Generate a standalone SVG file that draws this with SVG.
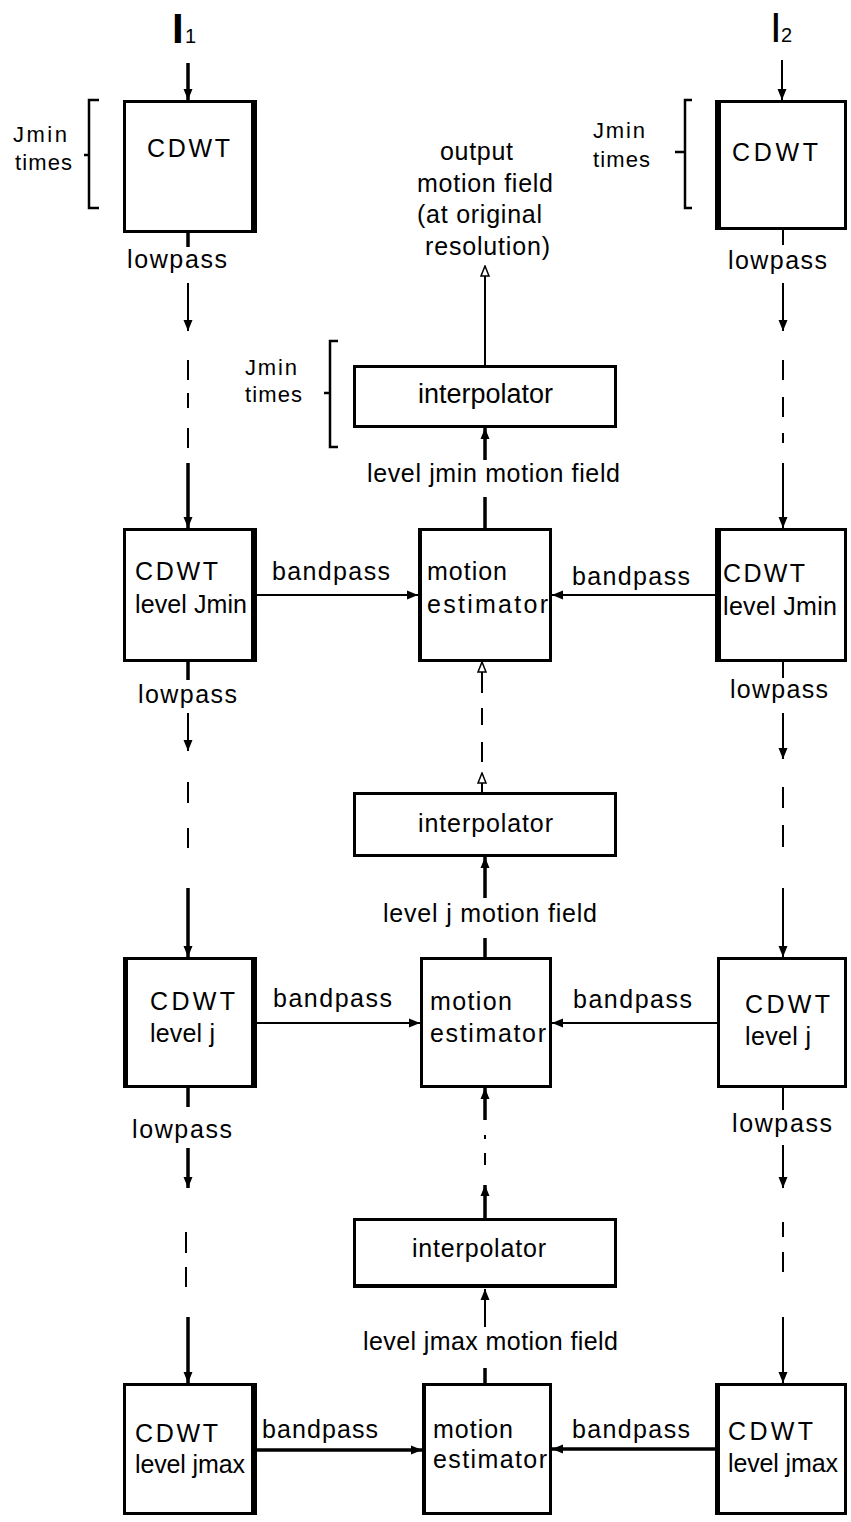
<svg xmlns="http://www.w3.org/2000/svg" width="851" height="1522" viewBox="0 0 851 1522">
  <style>
    .t { font-family: "Liberation Sans", Arial, sans-serif; font-size: 25px; fill: #000; }
    .big { font-size: 27px; }
    .box { fill: #fff; stroke: #000; stroke-width: 3; }
    .edge { stroke: #000; stroke-width: 6; }
    .ln { stroke: #000; stroke-width: 2; fill: none; }
    .lnb { stroke: #000; stroke-width: 3.5; fill: none; }
    .brace { stroke: #000; stroke-width: 2.5; fill: none; }
  </style>
  <defs>
    <marker id="ah" markerUnits="userSpaceOnUse" markerWidth="12" markerHeight="12" refX="11" refY="5" orient="auto">
      <path d="M0,0.5 L11,5 L0,9.5 z" fill="#000"/>
    </marker>
    <marker id="ahOpen" markerUnits="userSpaceOnUse" markerWidth="12" markerHeight="12" refX="11" refY="5" orient="auto">
      <path d="M1,1 L11,5 L1,9 z" fill="#fff" stroke="#000" stroke-width="1.5"/>
    </marker>
  </defs>
  <rect width="851" height="1522" fill="#fff"/>

  <!-- inputs and repetition braces -->
  <g id="input-I1">
    <text class="t" x="172" y="43" style="font-size:42px;font-weight:bold">I</text>
    <text class="t" x="185" y="43" style="font-size:20px">1</text>
  </g>
  <g id="input-I2">
    <text class="t" x="770" y="42" style="font-size:42px">I</text>
    <text class="t" x="781" y="42" style="font-size:20px">2</text>
  </g>
  <g id="brace-left">
    <path class="brace" d="M99,100 H89 V208 H99 M89,155 H84"/>
    <text class="t" x="13" y="142" textLength="54" lengthAdjust="spacing" style="font-size:22px">Jmin</text>
    <text class="t" x="15" y="170" textLength="57" lengthAdjust="spacing" style="font-size:22px">times</text>
  </g>
  <g id="brace-right">
    <path class="brace" d="M692,100 H685 V208 H692 M685,152 H675"/>
    <text class="t" x="593" y="138" textLength="52" lengthAdjust="spacing" style="font-size:22px">Jmin</text>
    <text class="t" x="593" y="167" textLength="57" lengthAdjust="spacing" style="font-size:22px">times</text>
  </g>
  <g id="brace-middle">
    <path class="brace" d="M338,341 H330 V447 H338 M330,393 H324"/>
    <text class="t" x="245" y="375" textLength="52" lengthAdjust="spacing" style="font-size:22px">Jmin</text>
    <text class="t" x="245" y="402" textLength="57" lengthAdjust="spacing" style="font-size:22px">times</text>
  </g>

  <!-- connectors -->
  <g id="connectors">
    <!-- left column -->
    <line class="lnb" x1="188" y1="63" x2="188" y2="100" marker-end="url(#ah)"/>
    <line class="lnb" x1="188" y1="233" x2="188" y2="247"/>
    <line class="ln" x1="188" y1="283" x2="188" y2="331" marker-end="url(#ah)"/>
    <path class="ln" d="M188,360 V380 M188,393 V408 M188,428 V448"/>
    <line class="lnb" x1="188" y1="463" x2="188" y2="528" marker-end="url(#ah)"/>
    <line class="lnb" x1="188" y1="662" x2="188" y2="680"/>
    <line class="ln" x1="188" y1="713" x2="188" y2="751" marker-end="url(#ah)"/>
    <path class="ln" d="M188,782 V803 M188,828 V848"/>
    <line class="lnb" x1="188" y1="888" x2="188" y2="957" marker-end="url(#ah)"/>
    <line class="lnb" x1="188" y1="1088" x2="188" y2="1107"/>
    <line class="lnb" x1="188" y1="1148" x2="188" y2="1188" marker-end="url(#ah)"/>
    <path class="ln" d="M186,1232 V1253 M186,1267 V1287"/>
    <line class="lnb" x1="188" y1="1317" x2="188" y2="1383" marker-end="url(#ah)"/>

    <!-- right column -->
    <line class="ln" x1="782" y1="60" x2="782" y2="100" marker-end="url(#ah)"/>
    <line class="ln" x1="783" y1="230" x2="783" y2="245"/>
    <line class="ln" x1="783" y1="283" x2="783" y2="331" marker-end="url(#ah)"/>
    <path class="ln" d="M783,360 V380 M783,397 V417 M783,433 V443"/>
    <line class="ln" x1="783" y1="463" x2="783" y2="528" marker-end="url(#ah)"/>
    <line class="ln" x1="783" y1="662" x2="783" y2="678"/>
    <line class="ln" x1="783" y1="713" x2="783" y2="759" marker-end="url(#ah)"/>
    <path class="ln" d="M783,787 V808 M783,825 V847"/>
    <line class="ln" x1="783" y1="888" x2="783" y2="957" marker-end="url(#ah)"/>
    <line class="ln" x1="783" y1="1088" x2="783" y2="1110"/>
    <line class="ln" x1="783" y1="1145" x2="783" y2="1188" marker-end="url(#ah)"/>
    <path class="ln" d="M783,1222 V1237 M783,1252 V1272"/>
    <line class="ln" x1="783" y1="1317" x2="783" y2="1383" marker-end="url(#ah)"/>

    <!-- bandpass links -->
    <line class="ln" x1="257" y1="595" x2="418" y2="595" marker-end="url(#ah)"/>
    <line class="ln" x1="715" y1="595" x2="552" y2="595" marker-end="url(#ah)"/>
    <line class="ln" x1="257" y1="1023" x2="420" y2="1023" marker-end="url(#ah)"/>
    <line class="ln" x1="717" y1="1023" x2="552" y2="1023" marker-end="url(#ah)"/>
    <line class="lnb" x1="257" y1="1450" x2="422" y2="1450" marker-end="url(#ah)"/>
    <line class="lnb" x1="715" y1="1449" x2="552" y2="1449" marker-end="url(#ah)"/>

    <!-- middle column -->
    <line class="ln" x1="485" y1="365" x2="485" y2="266" marker-end="url(#ahOpen)"/>
    <line class="lnb" x1="485" y1="460" x2="485" y2="428" marker-end="url(#ah)"/>
    <line class="lnb" x1="485" y1="528" x2="485" y2="497"/>
    <line class="ln" x1="482" y1="693" x2="482" y2="662" marker-end="url(#ahOpen)"/>
    <path class="ln" d="M482,708 V725 M482,742 V762"/>
    <line class="ln" x1="482" y1="792" x2="482" y2="773" marker-end="url(#ahOpen)"/>
    <line class="lnb" x1="485" y1="898" x2="485" y2="857" marker-end="url(#ah)"/>
    <line class="lnb" x1="485" y1="957" x2="485" y2="938"/>
    <line class="lnb" x1="485" y1="1120" x2="485" y2="1088" marker-end="url(#ah)"/>
    <path class="ln" d="M485,1135 V1139 M485,1153 V1165"/>
    <line class="lnb" x1="485" y1="1218" x2="485" y2="1185" marker-end="url(#ah)"/>
    <line class="ln" x1="485" y1="1327" x2="485" y2="1289" marker-end="url(#ah)"/>
    <line class="lnb" x1="485" y1="1383" x2="485" y2="1368"/>
  </g>

  <!-- labels on connectors -->
  <g id="labels">
    <text class="t" x="127" y="268" textLength="100" lengthAdjust="spacing">lowpass</text>
    <text class="t" x="728" y="269" textLength="99" lengthAdjust="spacing">lowpass</text>
    <text class="t" x="138" y="703" textLength="99" lengthAdjust="spacing">lowpass</text>
    <text class="t" x="730" y="698" textLength="98" lengthAdjust="spacing">lowpass</text>
    <text class="t" x="132" y="1138" textLength="100" lengthAdjust="spacing">lowpass</text>
    <text class="t" x="732" y="1132" textLength="100" lengthAdjust="spacing">lowpass</text>

    <text class="t" x="272" y="580" textLength="118" lengthAdjust="spacing">bandpass</text>
    <text class="t" x="572" y="585" textLength="118" lengthAdjust="spacing">bandpass</text>
    <text class="t" x="273" y="1007" textLength="119" lengthAdjust="spacing">bandpass</text>
    <text class="t" x="573" y="1008" textLength="119" lengthAdjust="spacing">bandpass</text>
    <text class="t" x="262" y="1438" textLength="116" lengthAdjust="spacing">bandpass</text>
    <text class="t" x="572" y="1438" textLength="118" lengthAdjust="spacing">bandpass</text>

    <text class="t" x="367" y="482" textLength="253" lengthAdjust="spacing">level jmin motion field</text>
    <text class="t" x="383" y="922" textLength="214" lengthAdjust="spacing">level j motion field</text>
    <text class="t" x="363" y="1350" textLength="255" lengthAdjust="spacing">level jmax motion field</text>

    <text class="t" x="440" y="160" textLength="73" lengthAdjust="spacing">output</text>
    <text class="t" x="417" y="192" textLength="136" lengthAdjust="spacing">motion field</text>
    <text class="t" x="417" y="223" textLength="125" lengthAdjust="spacing">(at original</text>
    <text class="t" x="425" y="255" textLength="125" lengthAdjust="spacing">resolution)</text>
  </g>

  <!-- nodes -->
  <g id="cdwt-top-left">
    <rect class="box" x="124.5" y="101.5" width="131" height="130"/>
    <line class="edge" x1="254" y1="100" x2="254" y2="233"/>
    <text class="t" x="147" y="157" textLength="83" lengthAdjust="spacing">CDWT</text>
  </g>
  <g id="cdwt-top-right">
    <rect class="box" x="716.5" y="101.5" width="129" height="127"/>
    <line class="edge" x1="718" y1="100" x2="718" y2="230"/>
    <text class="t" x="732" y="161" textLength="86" lengthAdjust="spacing">CDWT</text>
  </g>
  <g id="interpolator-top">
    <rect class="box" x="354.5" y="366.5" width="261" height="60"/>
    <text class="t big" x="418" y="403" textLength="135" lengthAdjust="spacing">interpolator</text>
  </g>
  <g id="cdwt-jmin-left">
    <rect class="box" x="124.5" y="529.5" width="131" height="131"/>
    <line class="edge" x1="254" y1="528" x2="254" y2="662"/>
    <text class="t" x="135" y="580" textLength="83" lengthAdjust="spacing">CDWT</text>
    <text class="t" x="135" y="613" textLength="112" lengthAdjust="spacing">level Jmin</text>
  </g>
  <g id="motion-estimator-jmin">
    <rect class="box" x="419.5" y="529.5" width="131" height="131"/>
    <line class="edge" x1="420" y1="528" x2="420" y2="662" style="stroke-width:4"/>
    <text class="t" x="427" y="580" textLength="80" lengthAdjust="spacing">motion</text>
    <text class="t" x="427" y="613" textLength="121" lengthAdjust="spacing">estimator</text>
  </g>
  <g id="cdwt-jmin-right">
    <rect class="box" x="716.5" y="529.5" width="129" height="131"/>
    <line class="edge" x1="718" y1="528" x2="718" y2="662"/>
    <text class="t" x="723" y="582" textLength="82" lengthAdjust="spacing">CDWT</text>
    <text class="t" x="723" y="615" textLength="114" lengthAdjust="spacing">level Jmin</text>
  </g>
  <g id="interpolator-j">
    <rect class="box" x="354.5" y="793.5" width="261" height="62"/>
    <text class="t" x="418" y="832" textLength="135" lengthAdjust="spacing">interpolator</text>
  </g>
  <g id="cdwt-j-left">
    <rect class="box" x="124.5" y="958.5" width="131" height="128"/>
    <line class="edge" x1="254" y1="957" x2="254" y2="1088"/>
    <line class="edge" x1="126" y1="957" x2="126" y2="1088" style="stroke-width:4"/>
    <text class="t" x="150" y="1010" textLength="85" lengthAdjust="spacing">CDWT</text>
    <text class="t" x="150" y="1042" textLength="65" lengthAdjust="spacing">level j</text>
  </g>
  <g id="motion-estimator-j">
    <rect class="box" x="421.5" y="958.5" width="129" height="128"/>
    <text class="t" x="430" y="1010" textLength="82" lengthAdjust="spacing">motion</text>
    <text class="t" x="430" y="1042" textLength="116" lengthAdjust="spacing">estimator</text>
  </g>
  <g id="cdwt-j-right">
    <rect class="box" x="718.5" y="958.5" width="127" height="128"/>
    <text class="t" x="745" y="1013" textLength="85" lengthAdjust="spacing">CDWT</text>
    <text class="t" x="745" y="1045" textLength="66" lengthAdjust="spacing">level j</text>
  </g>
  <g id="interpolator-jmax">
    <rect class="box" x="354.5" y="1219.5" width="261" height="67"/>
    <line class="edge" x1="353" y1="1286" x2="617" y2="1286" style="stroke-width:4"/>
    <text class="t" x="412" y="1257" textLength="134" lengthAdjust="spacing">interpolator</text>
  </g>
  <g id="cdwt-jmax-left">
    <rect class="box" x="124.5" y="1384.5" width="131" height="129"/>
    <line class="edge" x1="254" y1="1383" x2="254" y2="1515"/>
    <text class="t" x="135" y="1442" textLength="83" lengthAdjust="spacing">CDWT</text>
    <text class="t" x="135" y="1473" textLength="110" lengthAdjust="spacing">level jmax</text>
  </g>
  <g id="motion-estimator-jmax">
    <rect class="box" x="423.5" y="1384.5" width="127" height="129"/>
    <line class="edge" x1="424" y1="1383" x2="424" y2="1515" style="stroke-width:4"/>
    <text class="t" x="433" y="1438" textLength="80" lengthAdjust="spacing">motion</text>
    <text class="t" x="433" y="1468" textLength="114" lengthAdjust="spacing">estimator</text>
  </g>
  <g id="cdwt-jmax-right">
    <rect class="box" x="716.5" y="1384.5" width="129" height="129"/>
    <line class="edge" x1="718" y1="1383" x2="718" y2="1515" style="stroke-width:4"/>
    <text class="t" x="728" y="1440" textLength="85" lengthAdjust="spacing">CDWT</text>
    <text class="t" x="728" y="1472" textLength="110" lengthAdjust="spacing">level jmax</text>
  </g>
</svg>
